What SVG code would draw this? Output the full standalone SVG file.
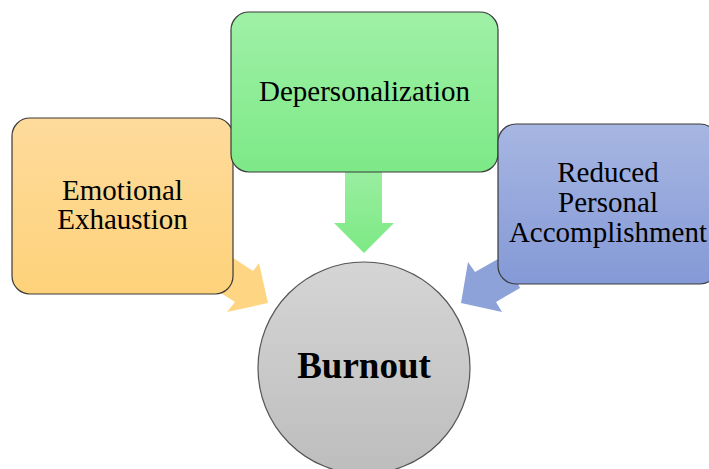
<svg xmlns="http://www.w3.org/2000/svg" width="709" height="469" viewBox="0 0 709 469">
<style>
.box{stroke:#3a3a3a;stroke-width:1.2}
.lbl{font-family:"Liberation Serif","Times New Roman",serif;font-size:29px;fill:#000;text-anchor:middle}
.big{font-family:"Liberation Serif","Times New Roman",serif;font-size:37px;font-weight:bold;fill:#000;text-anchor:middle}
</style>
<defs>
<linearGradient id="gO" x1="0" y1="0" x2="0" y2="1"><stop offset="0" stop-color="#FEDB9C"/><stop offset="1" stop-color="#FED27A"/></linearGradient>
<linearGradient id="gG" x1="0" y1="0" x2="0" y2="1"><stop offset="0" stop-color="#9FF0A6"/><stop offset="1" stop-color="#7DE987"/></linearGradient>
<linearGradient id="gB" x1="0" y1="0" x2="0" y2="1"><stop offset="0" stop-color="#A7B6E2"/><stop offset="1" stop-color="#8499D6"/></linearGradient>
<linearGradient id="gC" x1="0" y1="0" x2="0" y2="1"><stop offset="0" stop-color="#D5D5D5"/><stop offset="1" stop-color="#BDBDBD"/></linearGradient>
<linearGradient id="gGA" x1="0" y1="0" x2="0" y2="1"><stop offset="0" stop-color="#99EE9F"/><stop offset="1" stop-color="#7DE985"/></linearGradient>
</defs>
<g id="connectors">
<polygon points="215,246 253,271 259,263 268,303 227,312 235,302 205,283" fill="#FED583"/>
<polygon points="345,172 382,172 382,223 394,223 364,253 334,223 345,223" fill="url(#gGA)"/>
<polygon points="505,255 475,272 468,262 461,303 502,312 496,302 520,288" fill="#8EA2DA"/>
</g>
<g id="node-emotional">
<rect class="box" x="12" y="118" width="221" height="176" rx="18" fill="url(#gO)"/>
<text class="lbl" x="122.5" y="200">Emotional</text>
<text class="lbl" x="122.5" y="229">Exhaustion</text>
</g>
<g id="node-depersonalization">
<rect class="box" x="231" y="12" width="267" height="160" rx="18" fill="url(#gG)"/>
<text class="lbl" x="364.5" y="101">Depersonalization</text>
</g>
<g id="node-reduced">
<rect class="box" x="498" y="124" width="220" height="160" rx="18" fill="url(#gB)"/>
<text class="lbl" x="608" y="182">Reduced</text>
<text class="lbl" x="608" y="212">Personal</text>
<text class="lbl" x="608" y="242">Accomplishment</text>
</g>
<g id="node-burnout">
<circle cx="364" cy="368" r="106" fill="url(#gC)" stroke="#555" stroke-width="1.2"/>
<text class="big" x="364" y="378">Burnout</text>
</g>
</svg>
